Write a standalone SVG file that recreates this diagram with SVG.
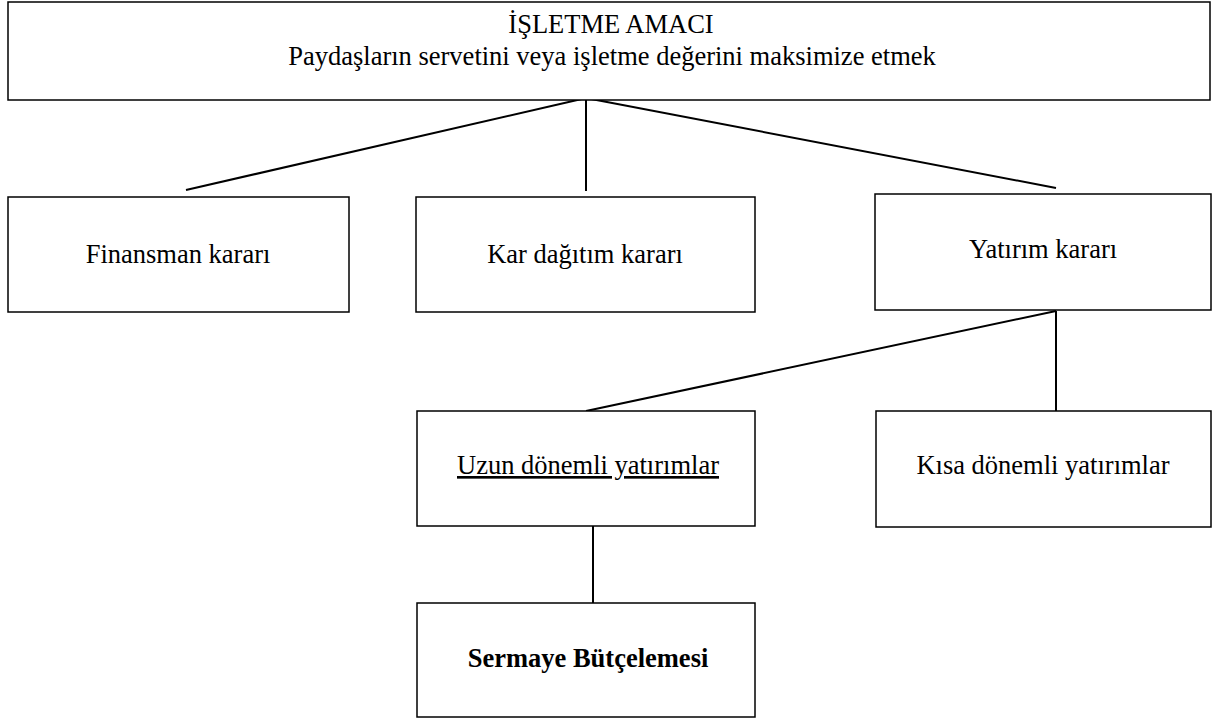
<svg xmlns="http://www.w3.org/2000/svg" width="1219" height="720" viewBox="0 0 1219 720">
<style>
.box{fill:#fff;stroke:#000;stroke-width:1.5}
.t{font-family:"Liberation Serif","Times New Roman",serif;font-size:26.5px;fill:#000;text-anchor:middle}
.b{font-weight:bold}
.c{stroke:#000;stroke-width:2;fill:none}
</style>
<rect width="1219" height="720" fill="#fff"/>
<g id="connectors">
<line class="c" x1="586" y1="98" x2="186" y2="190"/>
<line class="c" x1="586" y1="98" x2="586" y2="191"/>
<line class="c" x1="586" y1="98" x2="1056" y2="188"/>
<line class="c" x1="1056" y1="311" x2="586" y2="411"/>
<line class="c" x1="1056" y1="311" x2="1056" y2="411"/>
<line class="c" x1="593" y1="526" x2="593" y2="603"/>
</g>
<g id="goal">
<rect class="box" x="8" y="2" width="1202" height="98"/>
<text class="t" x="611" y="33">İŞLETME AMACI</text>
<text class="t" x="612" y="65">Paydaşların servetini veya işletme değerini maksimize etmek</text>
</g>
<g id="finansman">
<rect class="box" x="8" y="197" width="341" height="115"/>
<text class="t" x="178" y="263">Finansman kararı</text>
</g>
<g id="kar">
<rect class="box" x="416" y="197" width="339" height="115"/>
<text class="t" x="585" y="263">Kar dağıtım kararı</text>
</g>
<g id="yatirim">
<rect class="box" x="875" y="194" width="336" height="116"/>
<text class="t" x="1043" y="258">Yatırım kararı</text>
</g>
<g id="uzun">
<rect class="box" x="417" y="411" width="338" height="115"/>
<text class="t" x="588" y="474" text-decoration="underline">Uzun dönemli yatırımlar</text>
</g>
<g id="kisa">
<rect class="box" x="876" y="411" width="335" height="116"/>
<text class="t" x="1043" y="474">Kısa dönemli yatırımlar</text>
</g>
<g id="sermaye">
<rect class="box" x="417" y="603" width="338" height="114"/>
<text class="t b" x="588" y="667">Sermaye Bütçelemesi</text>
</g>
</svg>
